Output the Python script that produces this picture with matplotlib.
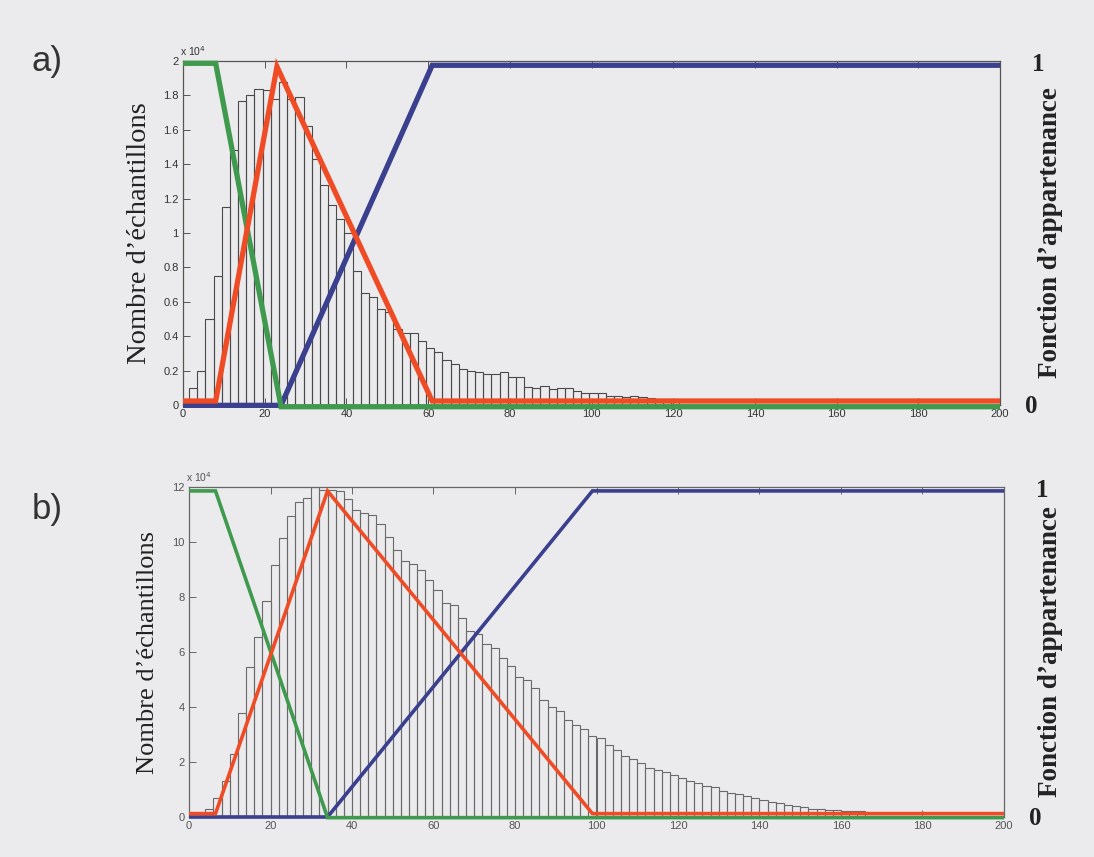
import numpy as np
import matplotlib
matplotlib.use("Agg")
import matplotlib.pyplot as plt

# ---------------- data ----------------
# Panel a) histogram: bins of width 2 starting at 1.5, counts in units of 10^4
a_bin_start = 1.5
a_bin_width = 2.0
a_counts = [0.10, 0.20, 0.50, 0.75, 1.15, 1.48, 1.77, 1.80, 1.84, 1.83,
            1.78, 1.88, 1.78, 1.79, 1.62, 1.43, 1.28, 1.16, 1.08, 1.00,
            0.78, 0.65, 0.63, 0.56, 0.54, 0.44, 0.42, 0.42, 0.37, 0.33,
            0.31, 0.26, 0.24, 0.21, 0.20, 0.19, 0.18, 0.18, 0.19, 0.16,
            0.16, 0.106, 0.10, 0.11, 0.095, 0.10, 0.097, 0.08, 0.07, 0.07,
            0.068, 0.055, 0.052, 0.045, 0.05, 0.048, 0.04, 0.035, 0.035, 0.033]

# Panel a) membership functions (x breakpoints, degree)
a_green_x = [0, 8, 24, 200]
a_green_y = [1, 1, 0, 0]
a_red_x = [0, 8, 23, 61, 200]
a_red_y = [0, 0, 1, 0, 0]
a_blue_x = [0, 24, 61, 200]
a_blue_y = [0, 0, 1, 1]

# Panel b) histogram: bins of width 2 starting at 2, counts in units of 10^4
b_bin_start = 2.0
b_bin_width = 2.0
b_counts = [0.05, 0.3, 0.7, 1.3, 2.3, 3.8, 5.45, 6.55, 7.85, 9.15,
            10.15, 10.95, 11.45, 11.6, 12.0, 11.9, 11.88, 11.84, 11.55, 11.15,
            11.07, 10.97, 10.67, 10.18, 9.7, 9.3, 9.2, 9.0, 8.63, 8.24,
            7.8, 7.7, 7.25, 6.75, 6.65, 6.3, 6.15, 5.8, 5.5, 5.1,
            5.0, 4.7, 4.27, 4.0, 3.84, 3.54, 3.33, 3.2, 2.95, 2.87,
            2.61, 2.43, 2.23, 2.12, 1.96, 1.77, 1.72, 1.63, 1.54, 1.43,
            1.31, 1.24, 1.13, 1.08, 0.95, 0.87, 0.83, 0.75, 0.70, 0.61,
            0.54, 0.50, 0.45, 0.40, 0.35, 0.29, 0.29, 0.24, 0.24, 0.21,
            0.21, 0.21]

b_green_x = [0, 6.5, 34, 200]
b_green_y = [1, 1, 0, 0]
b_red_x = [0, 6.5, 34, 99, 200]
b_red_y = [0, 0, 1, 0, 0]
b_blue_x = [0, 34, 99, 200]
b_blue_y = [0, 0, 1, 1]

x_ticks = list(range(0, 201, 20))
a_yticks = [0, 0.2, 0.4, 0.6, 0.8, 1, 1.2, 1.4, 1.6, 1.8, 2]
b_yticks = [0, 2, 4, 6, 8, 10, 12]

panel_letters = ["a)", "b)"]
ylabel_text = "Nombre d\u2019échantillons"
y2label_text = "Fonction d\u2019appartenance"
offset_text = r"x 10$^4$"

# ---------------- style ----------------
BG = "#ebebed"
GREEN = "#3f9a4e"
RED = "#ef4b24"
BLUE = "#3a3f8e"
SANS = ["Liberation Sans", "DejaVu Sans"]
SERIF = ["Liberation Serif", "DejaVu Serif"]

fig = plt.figure(figsize=(10.94, 8.57), dpi=100, facecolor=BG)


def panel(rect, counts, start, width, ymax, yticks, lines, lw,
          edgecol, spinecol, labelcol, letter, letter_y, ylabel_x, ylabel_fs):
    ax = fig.add_axes(rect)
    ax.set_facecolor(BG)
    lefts = start + width * np.arange(len(counts))
    ax.bar(lefts, counts, width=width, align="edge", facecolor="none",
           edgecolor=edgecol, linewidth=0.8, zorder=2)
    ax.set_xlim(0, 200)
    ax.set_ylim(0, ymax)
    ax.set_xticks(x_ticks)
    ax.set_yticks(yticks)
    ax.set_yticklabels(["%g" % t for t in yticks])
    ax.tick_params(direction="in", length=5, width=0.7, top=True, right=True,
                   colors=spinecol, labelcolor=labelcol, labelsize=8, pad=3)
    for lab in ax.get_xticklabels() + ax.get_yticklabels():
        lab.set_fontfamily(SANS)
    for s in ax.spines.values():
        s.set_color(spinecol)
        s.set_linewidth(0.9)

    # each membership curve on its own 0..1 scale (slightly shifted levels)
    for (xs, ys, col, ylim2) in lines:
        ax2 = ax.twinx()
        ax2.set_ylim(*ylim2)
        ax2.set_yticks([])
        ax2.patch.set_visible(False)
        for s in ax2.spines.values():
            s.set_visible(False)
        ax2.plot(xs, ys, color=col, lw=lw, solid_capstyle="butt",
                 solid_joinstyle="miter", clip_on=False)

    bbox = ax.get_position()
    fig.text(0.043, letter_y, letter, fontsize=25, family=SANS, color="#333333",
             ha="center", va="center")
    fig.text(ylabel_x, bbox.y0 + bbox.height * 0.5, ylabel_text, rotation=90,
             fontsize=ylabel_fs, family=SERIF, color="#222222",
             ha="center", va="center")
    fig.text(0.96, bbox.y0 + bbox.height * 0.5, y2label_text, rotation=90,
             fontsize=19.5, family=SERIF, fontweight="bold", color="#222222",
             ha="center", va="center")
    fig.text(bbox.x1 + 0.035, bbox.y1 - 0.004, "1", fontsize=18, family=SERIF,
             fontweight="bold", color="#222222", ha="center", va="center")
    fig.text(bbox.x1 + 0.029, bbox.y0 - 0.002, "0", fontsize=18, family=SERIF,
             fontweight="bold", color="#222222", ha="center", va="center")
    fig.text(bbox.x0 - 0.003, bbox.y1 + 0.004, offset_text, fontsize=7.5,
             family=SANS, color=labelcol, ha="left", va="bottom")
    return ax


# panel a
panel([183 / 1094, 1 - 405 / 857, 817 / 1094, 344 / 857],
      a_counts, a_bin_start, a_bin_width, 2, a_yticks,
      [(a_blue_x, a_blue_y, BLUE, (0.001, 1.0126)),
       (a_green_x, a_green_y, GREEN, (0.005, 1.0067)),
       (a_red_x, a_red_y, RED, (-0.012, 1.017))],
      3.8, "#4a4a4a", "#555555", "#333333",
      panel_letters[0], 1 - 61 / 857, 140 / 1094, 20.5)

# panel b
panel([189 / 1094, 1 - 817 / 857, 815 / 1094, 330 / 857],
      b_counts, b_bin_start, b_bin_width, 12, b_yticks,
      [(b_blue_x, b_blue_y, BLUE, (0.0, 1.012)),
       (b_green_x, b_green_y, GREEN, (0.002, 1.012)),
       (b_red_x, b_red_y, RED, (-0.0105, 1.0124))],
      2.6, "#6a6a6a", "#666666", "#555555",
      panel_letters[1], 1 - 510 / 857, 148 / 1094, 19)

fig.savefig("out.png", dpi=100, facecolor=BG)
